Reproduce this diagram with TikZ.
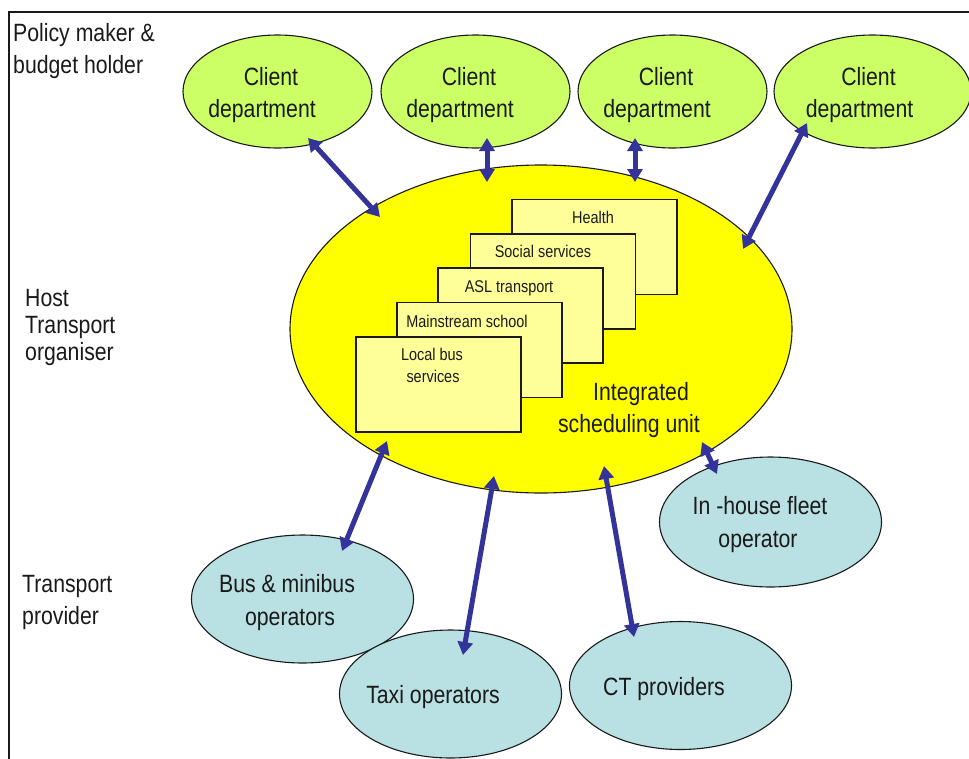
\documentclass[tikz,border=0pt]{standalone}
\usepackage{fontspec}
\setmainfont{Liberation Sans}[FakeStretch=0.85]
\usetikzlibrary{shapes.geometric,arrows.meta}
\definecolor{clientgreen}{HTML}{CCFF66}
\definecolor{unityellow}{HTML}{FFFF00}
\definecolor{boxyellow}{HTML}{FFFF99}
\definecolor{provblue}{HTML}{B9E0E3}
\definecolor{arrowblue}{HTML}{333399}
\definecolor{txt}{HTML}{1A1A1A}
\begin{document}
\begin{tikzpicture}[x=1pt,y=-1pt,
  client/.style={ellipse, draw=txt, line width=1.1pt, fill=clientgreen, minimum width=189pt, minimum height=113pt, inner sep=0pt},
  provider/.style={ellipse, draw=txt, line width=1.1pt, fill=provblue, minimum width=222pt, minimum height=128pt, inner sep=0pt},
  unit/.style={ellipse, draw=txt, line width=1.1pt, fill=unityellow, minimum width=502pt, minimum height=328pt, inner sep=0pt},
  servicebox/.style={rectangle, draw=txt, line width=1.1pt, fill=boxyellow, minimum width=165pt, minimum height=95pt, inner sep=0pt},
  bigtxt/.style={anchor=base, inner sep=0pt, text=txt, font=\fontsize{25}{29}\selectfont},
  bigleft/.style={bigtxt, anchor=base west},
  smalltxt/.style={anchor=base, inner sep=0pt, text=txt, font=\fontsize{17}{20}\selectfont},
  biarrow/.style={draw=arrowblue, line width=5pt, {Triangle[length=13pt,width=15pt]}-{Triangle[length=13pt,width=15pt]}}
]
\useasboundingbox (0,0) rectangle (969,758);
% frame
\draw[line width=2.6pt, txt] (9,760) -- (9,12) -- (971,12);

% row labels
\node[bigleft] (l1a) at (13,41) {Policy maker \&};
\node[bigleft] (l1b) at (13,73) {budget holder};
\node[bigleft] (l2a) at (25,306) {Host};
\node[bigleft] (l2b) at (25,333) {Transport};
\node[bigleft] (l2c) at (25,360) {organiser};
\node[bigleft] (l3a) at (22,592) {Transport};
\node[bigleft] (l3b) at (22,624) {provider};

% client departments
\node[client] (c1) at (277.5,91.5) {};
\node[client] (c2) at (475.5,91.5) {};
\node[client] (c3) at (672.5,91.5) {};
\node[client, minimum width=197pt] (c4) at (872.5,91.5) {};
\foreach \n/\cx in {1/277.5,2/475.5,3/672.5,4/875}{
  \node[bigtxt] (ct\n a) at (\cx-6.5,85) {Client};
  \node[bigtxt] (ct\n b) at (\cx-15.5,117) {department};
}

% integrated scheduling unit
\node[unit] (isu) at (541,329) {};
\node[servicebox] (bh) at (594.5,247) {};
\node[smalltxt] (bht) at (593,223) {Health};
\node[servicebox] (bs) at (553,281.5) {};
\node[smalltxt] (bst) at (543,257) {Social services};
\node[servicebox] (ba) at (520.5,315.5) {};
\node[smalltxt] (bat) at (509,292) {ASL transport};
\node[servicebox] (bm) at (479.5,350) {};
\node[smalltxt] (bmt) at (467,327) {Mainstream school};
\node[servicebox] (bl) at (438.5,384.5) {};
\node[smalltxt] (blt1) at (432,360) {Local bus};
\node[smalltxt] (blt2) at (433,382) {services};
\node[bigtxt] (isut1) at (641,400) {Integrated};
\node[bigtxt] (isut2) at (629,432) {scheduling unit};

% providers
\node[provider] (bus) at (302.5,599) {};
\node[bigtxt] (bust1) at (287,592) {Bus \& minibus};
\node[bigtxt] (bust2) at (290,625) {operators};
\node[provider] (taxi) at (450.5,694) {};
\node[bigtxt] (taxit) at (433,703) {Taxi operators};
\node[provider] (ctp) at (680.5,685.5) {};
\node[bigtxt] (ctpt) at (664,695) {CT providers};
\node[provider, minimum height=130pt] (inh) at (770.5,522) {};
\node[bigtxt] (inht1) at (760,514) {In -house fleet};
\node[bigtxt] (inht2) at (758,547) {operator};

% arrow end points
\coordinate (a1s) at (308,138);  \coordinate (a1e) at (380,217);
\coordinate (a2s) at (487,138);  \coordinate (a2e) at (487,182);
\coordinate (a3s) at (635,138);  \coordinate (a3e) at (635,182);
\coordinate (a4s) at (807,123);  \coordinate (a4e) at (743,249);
\coordinate (a5s) at (387,441);  \coordinate (a5e) at (342,551);
\coordinate (a6s) at (494,476);  \coordinate (a6e) at (463,655);
\coordinate (a7s) at (604,466);  \coordinate (a7e) at (634,637);
\coordinate (a8s) at (702,442);  \coordinate (a8e) at (717,474);

\draw[biarrow] (a1s) -- (a1e);
\draw[biarrow] (a2s) -- (a2e);
\draw[biarrow] (a3s) -- (a3e);
\draw[biarrow] (a4s) -- (a4e);
\draw[biarrow] (a5s) -- (a5e);
\draw[biarrow] (a6s) -- (a6e);
\draw[biarrow] (a7s) -- (a7e);
\draw[biarrow] (a8s) -- (a8e);
\end{tikzpicture}
\end{document}
